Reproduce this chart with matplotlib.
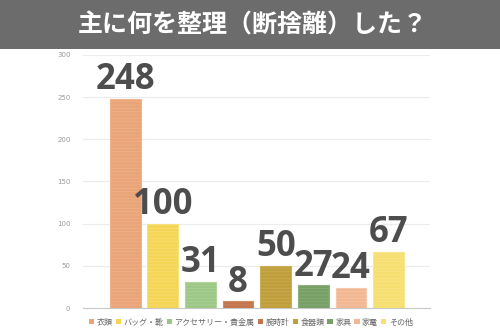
import matplotlib
matplotlib.use("Agg")
import matplotlib.pyplot as plt
from matplotlib.patches import Rectangle

plt.rcParams['font.family'] = ['Noto Sans CJK JP', 'DejaVu Sans']
plt.rcParams['hatch.linewidth'] = 0.4

categories = ['衣類', 'バッグ・靴', 'アクセサリー・貴金属', '腕時計', '食器類', '家具', '家電', 'その他']
counts = [248, 100, 31, 8, 50, 27, 24, 67]
colors = ['#E9A478', '#F4D556', '#9DC786', '#C4754B', '#BF9E3C', '#78A066', '#F2B893', '#F6DE70']
edges = ['#F0B48E', '#F8E07A', '#B0D49C', '#CF8C66', '#CDAF57', '#8DB07C', '#F6C7A8', '#F9E690']
yticks = [0, 50, 100, 150, 200, 250, 300]
title = '主に何を整理（断捨離）した？'

fig = plt.figure(figsize=(5.0, 3.33), dpi=100)
fig.patch.set_facecolor('white')

# title banner
fig.patches.append(Rectangle((0, 0.853), 1, 0.147, transform=fig.transFigure,
                             facecolor='#6c6c6c', edgecolor='none', zorder=0))
fig.text(0.505, 0.925, title, ha='center', va='center', color='white',
         fontsize=18, fontweight='bold', family=['Noto Sans CJK JP', 'DejaVu Sans'])

ax = fig.add_axes([0.166, 0.075, 0.694, 0.76])
x = list(range(len(categories)))
ax.bar(x, counts, width=0.82, color=colors, edgecolor=edges, linewidth=0.8,
       hatch='-----', zorder=3)
ax.set_xlim(-1.12, 8.1)
ax.set_ylim(0, 300)
ax.set_yticks(yticks)
ax.set_xticks([])
ax.grid(axis='y', color='#ececec', linewidth=0.8, zorder=0)
for s in ['top', 'right', 'left']:
    ax.spines[s].set_visible(False)
ax.spines['bottom'].set_color('#c8c8c8')
ax.spines['bottom'].set_linewidth(0.8)
ax.tick_params(axis='y', length=0, pad=9, labelsize=5, labelcolor='#9a9a9a')
for lab in ax.get_yticklabels():
    lab.set_family(['DejaVu Sans'])

for xi, v in zip(x, counts):
    ax.text(xi, v + 0.5, str(v), ha='center', va='bottom', fontsize=25,
            fontweight='bold', color='#4d4d4d', family=['Open Sans', 'DejaVu Sans'],
            zorder=5)

handles = [Rectangle((0, 0), 1, 1, facecolor=c, edgecolor='none') for c in colors]
fig.legend(handles, categories, loc='center', bbox_to_anchor=(0.502, 0.033),
           ncol=len(categories), frameon=False, fontsize=5.8, labelcolor='#666666',
           handlelength=0.65, handleheight=0.65, handletextpad=0.3, columnspacing=0.4,
           borderaxespad=0)

fig.savefig('out.png', dpi=100, facecolor='white')
